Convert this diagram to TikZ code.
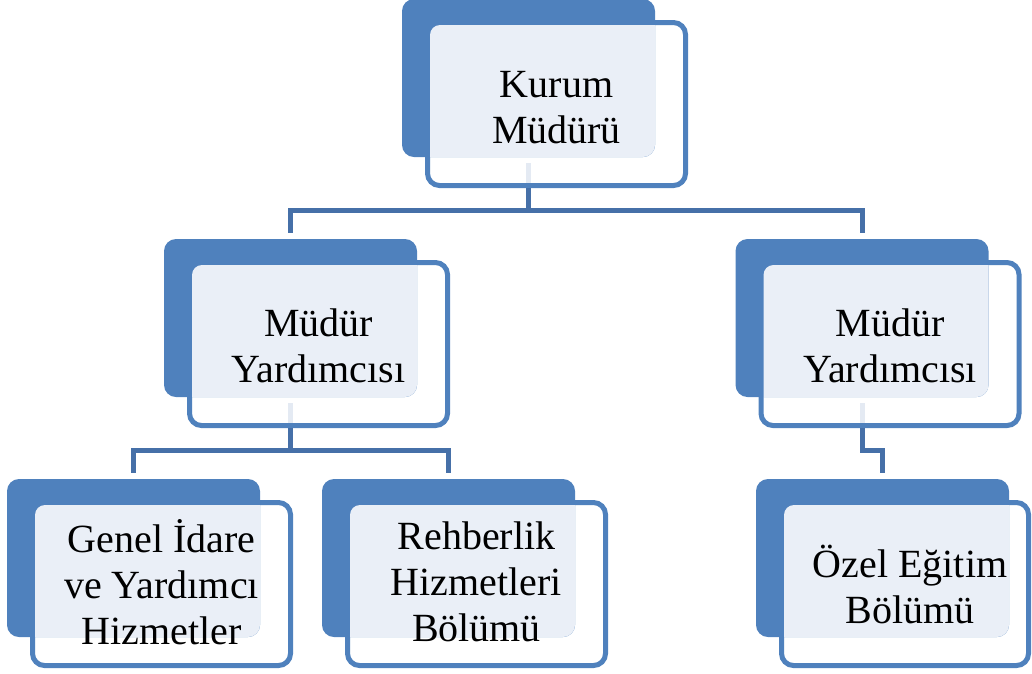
\documentclass[tikz,border=0pt]{standalone}
\usepackage{fontspec}
\setmainfont{Liberation Serif}
\definecolor{cardblue}{HTML}{4F81BD}
\definecolor{cardtint}{HTML}{EAEFF7}
\definecolor{linkblue}{HTML}{4670A8}
\definecolor{ghostline}{HTML}{E4EAF3}

\begin{document}
\begin{tikzpicture}[x=1pt, y=-1pt,
  frontcard/.style={draw=cardblue, fill=white, line width=5pt, rounded corners=12pt, minimum width=258pt, minimum height=163pt, inner sep=0pt},
  backcard/.style={fill=cardblue, rounded corners=12pt, minimum width=253pt, minimum height=158pt, inner sep=0pt, outer sep=0pt, anchor=north west},
  cardtext/.style={align=center, font=\fontsize{40}{46}\selectfont},
  link/.style={draw=linkblue, line width=5pt, shorten >=6pt},
  ghost/.style={draw=ghostline, line width=5pt}]
  \useasboundingbox (0,0) rectangle (1032,673);
  \node[frontcard] (kurum) at (556.5,104) {};
  \node[frontcard] (myl) at (318.5,344) {};
  \node[frontcard] (myr) at (890,344) {};
  \node[frontcard] (genel) at (161.5,584) {};
  \node[frontcard] (rehber) at (476.5,584) {};
  \node[frontcard, minimum width=247pt] (ozel) at (905,584) {};
  \foreach \c in {kurum,myl,myr,genel,rehber,ozel} {
    \node[backcard] (\c-b) at ([shift={(-23,-21)}]\c.north west) {};
    \begin{scope}
      \clip[rounded corners=12pt] (\c-b.north west) rectangle (\c-b.south east);
      \fill[cardtint, rounded corners=10pt] ([shift={(5,5)}]\c.north west) rectangle ([shift={(-5,-5)}]\c.south east);
    \end{scope}
  }
  \node[cardtext, yshift=-4pt] (kurum-t) at (kurum) {Kurum\\Müdürü};
  \node[cardtext, yshift=-2pt] (myl-t) at (myl) {Müdür\\Yardımcısı};
  \node[cardtext, yshift=-2pt] (myr-t) at (myr) {Müdür\\Yardımcısı};
  \node[cardtext, yshift=2pt] (genel-t) at (genel) {Genel İdare\\ve Yardımcı\\Hizmetler};
  \node[cardtext, yshift=2pt] (rehber-t) at (rehber) {Rehberlik\\Hizmetleri\\Bölümü};
  \node[cardtext, xshift=5pt] (ozel-t) at (ozel) {Özel Eğitim\\Bölümü};
  \foreach \c in {kurum,myl,myr}
    \draw[ghost] ([yshift=-6pt]\c-b.south) -- ([yshift=5pt]\c-b.south |- \c.south);
  \draw[link] (kurum-b.south |- kurum.south) -- ++(0,22) -| (myl-b.north);
  \draw[link] (kurum-b.south |- kurum.south) -- ++(0,22) -| (myr-b.north);
  \draw[link] (myl-b.south |- myl.south) -- ++(0,22) -| (genel-b.north);
  \draw[link] (myl-b.south |- myl.south) -- ++(0,22) -| (rehber-b.north);
  \draw[link] (myr-b.south |- myr.south) -- ++(0,22) -| (ozel-b.north);
\end{tikzpicture}
\end{document}
